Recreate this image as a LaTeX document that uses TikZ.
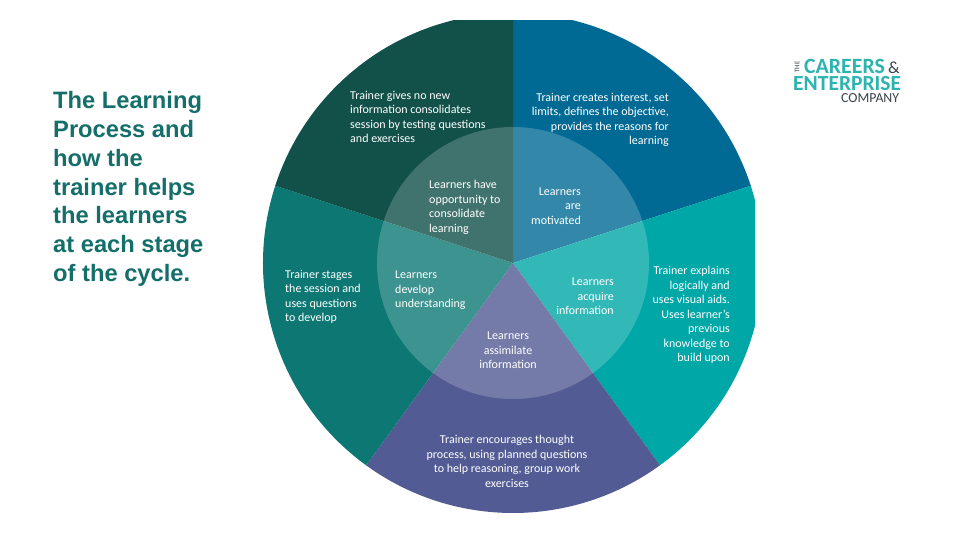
\documentclass[tikz,border=0pt]{standalone}
\usepackage{fontspec}
\setmainfont{Carlito}
\newfontfamily\titlefont{Liberation Sans}
\definecolor{topright}{HTML}{006A94}
\definecolor{rightseg}{HTML}{00A7A7}
\definecolor{bottomseg}{HTML}{525B93}
\definecolor{leftseg}{HTML}{0D7873}
\definecolor{topleft}{HTML}{12514A}
\definecolor{logoteal}{HTML}{2DB3B0}
\definecolor{logogrey}{HTML}{3A4248}
\definecolor{titleteal}{HTML}{146E6A}
\tikzset{
  seglabel/.style={text=white, inner sep=0pt, font=\fontsize{12}{14.5}\selectfont},
  leftlabel/.style={seglabel, align=left, anchor=north west},
  rightlabel/.style={seglabel, align=right, anchor=north east},
  midlabel/.style={seglabel, align=center, anchor=north},
  logolabel/.style={inner sep=0pt, anchor=base west}
}
\begin{document}
\begin{tikzpicture}[x=1pt, y=-1pt]

  %% canvas
  \fill[white] (0,0) rectangle (960,540);

  %% outer ring, cut off at the top and the right
  \begin{scope}
    \clip (0,21) rectangle (755,540);
    \begin{scope}[shift={(513,263)}, y=1pt]
      \fill[topright] (0,0) -- (90:250) arc[start angle=90, end angle=18, radius=250] -- cycle;
      \fill[rightseg] (0,0) -- (18:250) arc[start angle=18, end angle=-54, radius=250] -- cycle;
      \fill[bottomseg] (0,0) -- (-54:250) arc[start angle=-54, end angle=-126, radius=250] -- cycle;
      \fill[leftseg] (0,0) -- (-126:250) arc[start angle=-126, end angle=-198, radius=250] -- cycle;
      \fill[topleft] (0,0) -- (162:250) arc[start angle=162, end angle=90, radius=250] -- cycle;
      %% inner circle
      \fill[white, fill opacity=0.2] (0,0) circle[radius=136];
    \end{scope}
  \end{scope}

  %% title
  \node[inner sep=0pt, anchor=north west, align=left, text=titleteal,
        font=\titlefont\bfseries\fontsize{23.7}{28.9}\selectfont] (title) at (53,91)
    {The Learning\\Process and\\how the\\trainer helps\\the learners\\at each stage\\of the cycle.};

  %% outer labels
  \node[leftlabel] (gives) at (350,91) {Trainer gives no new\\information consolidates\\session by testing questions\\and exercises};
  \node[rightlabel] (creates) at (669,93) {Trainer creates interest, set\\limits, defines the objective,\\provides the reasons for\\learning};
  \node[rightlabel] (explains) at (730,266) {Trainer explains\\logically and\\uses visual aids.\\Uses learner's\\previous\\knowledge to\\build upon};
  \node[midlabel] (encourages) at (507,435) {Trainer encourages thought\\process, using planned questions\\to help reasoning, group work\\exercises};
  \node[leftlabel] (stages) at (285,270) {Trainer stages\\the session and\\uses questions\\to develop};

  %% inner labels
  \node[leftlabel] (consolidate) at (429,180) {Learners have\\opportunity to\\consolidate\\learning};
  \node[rightlabel] (motivated) at (581,187.5) {Learners\\are\\motivated};
  \node[rightlabel] (acquire) at (614,278) {Learners\\acquire\\information};
  \node[midlabel] (assimilate) at (508,332) {Learners\\assimilate\\information};
  \node[leftlabel] (develop) at (395,271) {Learners\\develop\\understanding};

  %% logo
  \node[logolabel, text=logoteal, font=\bfseries\fontsize{21.8}{22}\selectfont] (logocareers) at (804,73.5) {CAREERS};
  \node[logolabel, text=logogrey, font=\fontsize{17}{17}\selectfont] (logoamp) at (888,73.5) {\&};
  \node[logolabel, text=logoteal, font=\bfseries\fontsize{21.5}{22}\selectfont] (logoenterprise) at (793,90.5) {ENTERPRISE};
  \node[logolabel, text=logogrey, font=\fontsize{13.8}{14}\selectfont] (logocompany) at (841,103) {COMPANY};
  \node[inner sep=0pt, rotate=90, text=logogrey, font=\fontsize{7}{7}\selectfont] (logothe) at (797,67) {THE};

  \pgfresetboundingbox
  \path[use as bounding box] (0,0) rectangle (960,540);
\end{tikzpicture}
\end{document}
